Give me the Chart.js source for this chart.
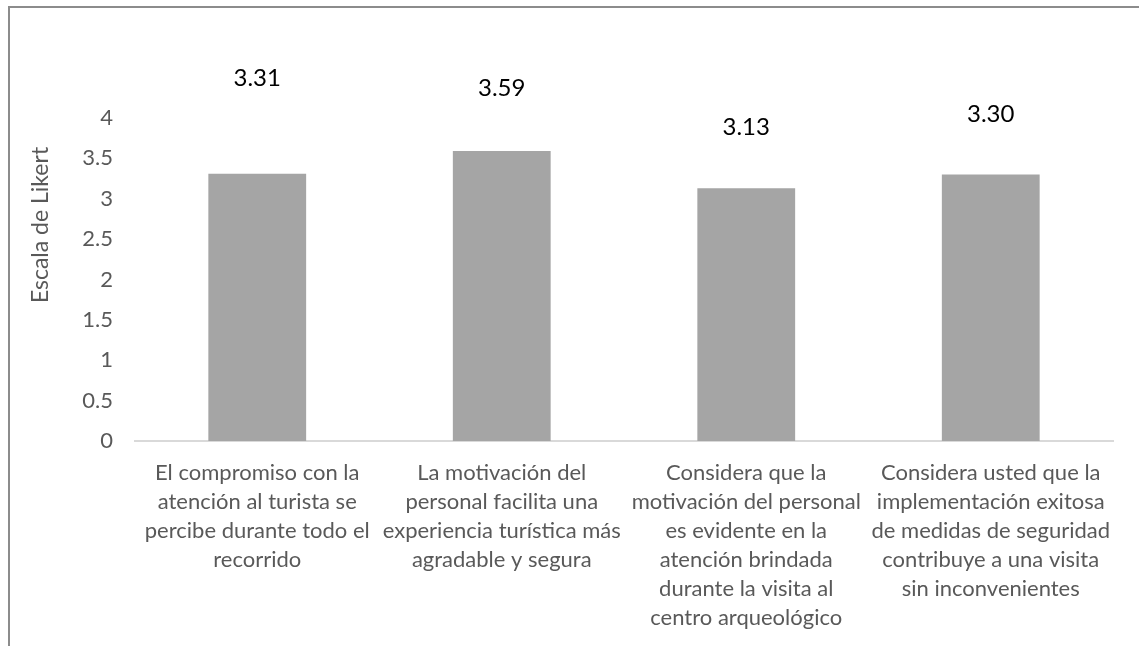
<!DOCTYPE html>
<html>
<head>
<meta charset="utf-8">
<script src="https://cdn.jsdelivr.net/npm/chart.js@4"></script>
<style>
  body { margin: 0; background: #fff; overflow: hidden; }
  #frame { position: absolute; left: 8px; top: 6px; width: 1200px; height: 700px; border: 2px solid #8c8c8c; }
  #wrap { position: absolute; left: 0; top: 0; width: 1139px; height: 646px; }
</style>
</head>
<body>
<div id="frame"></div>
<div id="wrap"><canvas id="chart" width="1139" height="646"></canvas></div>
<script>
// Datos del grafico
var categorias = [
  ['El compromiso con la', 'atención al turista se', 'percibe durante todo el', 'recorrido'],
  ['La motivación del', 'personal facilita una', 'experiencia turística más', 'agradable y segura'],
  ['Considera que la', 'motivación del personal', 'es evidente en la', 'atención brindada', 'durante la visita al', 'centro arqueológico'],
  ['Considera usted que la', 'implementación exitosa', 'de medidas de seguridad', 'contribuye a una visita', 'sin inconvenientes']
];
var promedios = [3.31, 3.59, 3.13, 3.30];
var ticksY = [0, 0.5, 1, 1.5, 2, 2.5, 3, 3.5, 4];
var tituloY = 'Escala de Likert';

var fuente = 'Lato, "Open Sans", sans-serif';

// etiquetas de valor encima de cada barra y titulo del eje (como en el original)
var etiquetas = {
  id: 'etiquetas',
  afterDatasetsDraw: function(chart) {
    var ctx = chart.ctx;
    var desplaz = [95, 63, 61, 60];
    var meta = chart.getDatasetMeta(0);
    ctx.save();
    ctx.font = '24px ' + fuente;
    ctx.fillStyle = '#000';
    ctx.textAlign = 'center';
    ctx.textBaseline = 'middle';
    meta.data.forEach(function(bar, i) {
      ctx.fillText(promedios[i].toFixed(2), bar.x, bar.y - desplaz[i]);
    });
    // titulo del eje Y
    ctx.font = '23px ' + fuente;
    ctx.fillStyle = '#595959';
    ctx.translate(41, 225);
    ctx.rotate(-Math.PI / 2);
    ctx.fillText(tituloY, 0, 0);
    ctx.restore();
  }
};

var ctx = document.getElementById('chart').getContext('2d');
new Chart(ctx, {
  type: 'bar',
  data: {
    labels: categorias,
    datasets: [{
      data: promedios,
      backgroundColor: '#a5a5a5',
      barPercentage: 0.4,
      categoryPercentage: 1
    }]
  },
  options: {
    responsive: false,
    animation: false,
    layout: { padding: { top: 118, right: 26, left: 0, bottom: 0 } },
    plugins: {
      legend: { display: false },
      tooltip: { enabled: false }
    },
    scales: {
      x: {
        grid: { display: false, drawTicks: false },
        border: { color: '#d9d9d9', width: 2 },
        ticks: {
          color: '#595959',
          font: { family: fuente, size: 22, lineHeight: 1.32 },
          maxRotation: 0,
          autoSkip: false,
          padding: 17
        },
        afterFit: function(axis) { axis.height = 205; }
      },
      y: {
        min: 0,
        max: 4,
        afterBuildTicks: function(axis) {
          axis.ticks = ticksY.map(function(v) { return { value: v }; });
        },
        grid: { display: false, drawTicks: false },
        border: { display: false },
        ticks: {
          color: '#595959',
          font: { family: fuente, size: 22 },
          padding: 22,
          callback: function(v) { return String(v); }
        },
        afterFit: function(axis) { axis.width = 135; }
      }
    }
  },
  plugins: [etiquetas]
});
</script>
</body>
</html>
